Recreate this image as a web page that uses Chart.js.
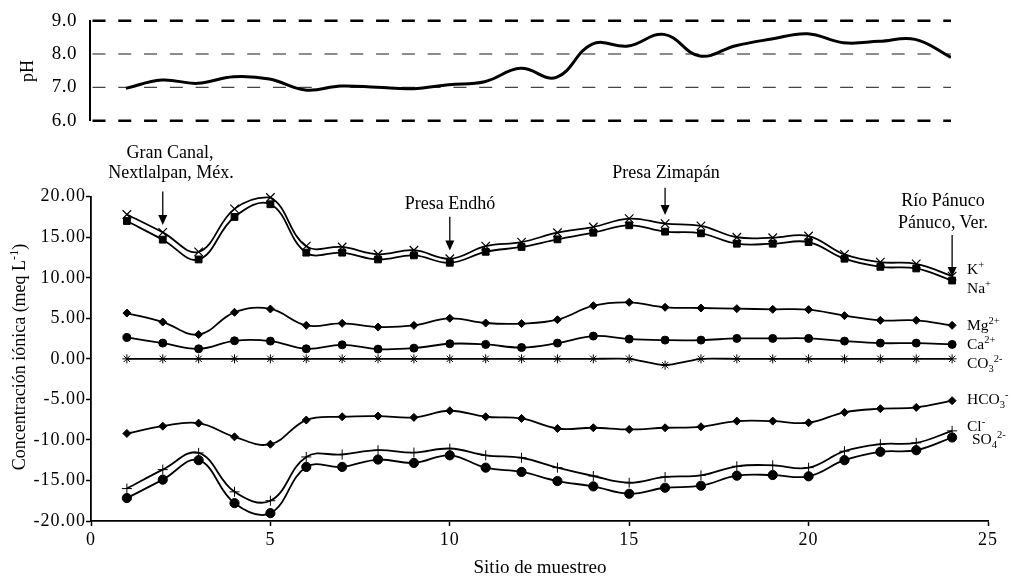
<!DOCTYPE html>
<html><head><meta charset="utf-8">
<script src="https://cdn.jsdelivr.net/npm/chart.js@4.4.1/dist/chart.umd.min.js"></script>
<style>
body{margin:0;background:#fff;}
#wrap{position:relative;width:1013px;height:578px;overflow:hidden;font-family:'Liberation Serif','Times New Roman',serif;color:#000;background:#fff;}
canvas{position:absolute;left:0;}
.t{position:absolute;white-space:nowrap;line-height:1;transform:translate(-50%,-50%);}
.rot{transform:translate(-50%,-50%) rotate(-90deg);}
.r{position:absolute;white-space:nowrap;line-height:1;transform:translate(0,-50%);font-size:15.5px;}
sup,sub{font-size:68%;line-height:0;}
</style></head><body>
<div id="wrap">
<canvas id="cTop" width="1013" height="140" style="top:0"></canvas>
<canvas id="cBot" width="1013" height="438" style="top:140px"></canvas>

<div class="t rot" style="left:27px;top:71px;font-size:18px;">pH</div>
<div class="t rot" style="left:19px;top:357px;font-size:18px;">Concentración iónica (meq L<sup>-1</sup>)</div>
<div class="t" style="left:540px;top:566px;font-size:19px;">Sitio de muestreo</div>

<div class="t" style="left:170px;top:152px;font-size:18px;">Gran Canal,</div>
<div class="t" style="left:171px;top:172px;font-size:18px;">Nextlalpan, Méx.</div>
<div class="t" style="left:450px;top:203px;font-size:18px;">Presa Endhó</div>
<div class="t" style="left:666px;top:172px;font-size:18px;">Presa Zimapán</div>
<div class="t" style="left:943px;top:200px;font-size:18px;">Río Pánuco</div>
<div class="t" style="left:943px;top:222px;font-size:18px;">Pánuco, Ver.</div>

<div class="r" style="left:967px;top:269px;">K<sup>+</sup></div>
<div class="r" style="left:967px;top:288px;">Na<sup>+</sup></div>
<div class="r" style="left:967px;top:325px;">Mg<sup>2+</sup></div>
<div class="r" style="left:967px;top:344px;">Ca<sup>2+</sup></div>
<div class="r" style="left:967px;top:363px;">CO<sub>3</sub><sup>2-</sup></div>
<div class="r" style="left:967px;top:399px;">HCO<sub>3</sub><sup>-</sup></div>
<div class="r" style="left:967px;top:426px;">Cl<sup>-</sup></div>
<div class="r" style="left:972px;top:439px;">SO<sub>4</sub><sup>2-</sup></div>
</div>
<script>
// ---------- data ----------
const sites = [1,2,3,4,5,6,7,8,9,10,11,12,13,14,15,16,17,18,19,20,21,22,23,24];
const pH   = [6.97,7.22,7.12,7.32,7.25,6.92,7.04,7.00,6.96,7.08,7.17,7.57,7.30,8.30,8.24,8.59,7.94,8.25,8.45,8.61,8.34,8.38,8.44,7.90];
const K    = [17.8,15.6,13.2,18.5,19.9,13.9,13.8,12.9,13.4,12.35,13.9,14.4,15.56,16.26,17.3,16.68,16.4,15.0,14.94,15.15,12.88,11.93,11.72,10.2];
const Na   = [17.0,14.7,12.26,17.5,19.07,13.1,13.1,12.26,12.76,11.85,13.2,13.8,14.74,15.56,16.47,15.69,15.48,14.2,14.2,14.4,12.35,11.35,11.15,9.66];
const Mg   = [5.65,4.54,3.0,5.74,6.15,4.13,4.38,3.92,4.13,5.0,4.42,4.35,4.83,6.56,6.97,6.36,6.27,6.19,6.11,6.07,5.33,4.75,4.75,4.13];
const Ca   = [2.64,1.94,1.24,2.23,2.19,1.24,1.73,1.2,1.32,1.86,1.78,1.4,1.94,2.81,2.44,2.31,2.31,2.52,2.52,2.52,2.19,1.94,1.94,1.78];
const CO3  = [0,0,0,0,0,0,0,0,0,0,0,0,0,0,0,-0.78,0,0,0,0,0,0,0,0];
const HCO3 = [-9.2,-8.3,-7.93,-9.62,-10.53,-7.55,-7.14,-7.06,-7.22,-6.4,-7.14,-7.35,-8.59,-8.5,-8.71,-8.5,-8.38,-7.68,-7.68,-7.88,-6.6,-6.15,-5.99,-5.16];
const Cl   = [-16.0,-13.66,-11.6,-16.4,-17.5,-12.1,-11.8,-11.27,-11.56,-11.06,-11.9,-12.2,-13.42,-14.45,-15.28,-14.57,-14.37,-13.25,-13.13,-13.42,-11.39,-10.53,-10.36,-8.88];
const SO4  = [-17.17,-14.9,-12.5,-17.8,-19.03,-13.33,-13.33,-12.42,-12.84,-11.9,-13.42,-13.95,-15.07,-15.73,-16.64,-15.9,-15.65,-14.41,-14.33,-14.49,-12.5,-11.47,-11.27,-9.7];

const phTicks   = [6,7,8,9];
const ionTicks  = [-20,-15,-10,-5,0,5,10,15,20];
const siteTicks = [0,5,10,15,20,25];

// annotation arrows (site, arrow start value, arrow tip value)
const arrowSites = [2,10,16,24];
const arrowFrom  = [20.63,17.54,21.09,15.28];
const arrowTo    = [16.52,13.35,17.75,10.1];

// ---------- helpers ----------
const FONT = "'Liberation Serif','Times New Roman',serif";
Chart.defaults.font.family = FONT;
Chart.defaults.color = '#000';
const pts = arr => sites.map((s,i)=>({x:s,y:arr[i]}));
const setTicks = arr => (scale)=>{ scale.ticks = arr.map(v=>({value:v})); };

const spacing = (px)=>({
  id:'spacing',
  beforeDraw(chart){ chart.ctx.letterSpacing = px+'px'; },
  afterDraw(chart){ chart.ctx.letterSpacing = '0px'; }
});

const phGridStyle = {9:{w:2.5,c:'#000'},8:{w:2,c:'#8c8c8c'},7:{w:1.3,c:'#444'},6:{w:2.5,c:'#000'}};
const phGrid = {
  id:'phGrid',
  beforeDatasetsDraw(chart){
    const {ctx, chartArea:a, scales:{y}} = chart;
    ctx.save();
    phTicks.forEach(v=>{
      const st = phGridStyle[v];
      const py = y.getPixelForValue(v);
      ctx.beginPath();
      ctx.lineWidth = st.w; ctx.strokeStyle = st.c;
      ctx.setLineDash([13,12.78]);
      ctx.lineDashOffset = -4.5;
      ctx.moveTo(a.left-2, py); ctx.lineTo(a.right, py);
      ctx.stroke();
    });
    ctx.restore();
  }
};

const arrowPlugin = {
  id:'arrows',
  afterDatasetsDraw(chart){
    const {ctx, scales:{x,y}} = chart;
    ctx.save();
    ctx.strokeStyle='#000'; ctx.fillStyle='#000'; ctx.lineWidth=1.3;
    arrowSites.forEach((s,i)=>{
      const px = x.getPixelForValue(s);
      const y0 = y.getPixelForValue(arrowFrom[i]);
      const y1 = y.getPixelForValue(arrowTo[i]);
      ctx.beginPath(); ctx.moveTo(px,y0); ctx.lineTo(px,y1-9); ctx.stroke();
      ctx.beginPath(); ctx.moveTo(px-4.5,y1-10); ctx.lineTo(px+4.5,y1-10); ctx.lineTo(px,y1); ctx.closePath(); ctx.fill();
    });
    ctx.restore();
  }
};

// ---------- top chart: pH ----------
const cTop = new Chart(document.getElementById('cTop'), {
  type:'line',
  data:{datasets:[{data:pts(pH), borderColor:'#000', borderWidth:3, pointRadius:0, tension:0.4, fill:false}]},
  options:{
    responsive:false, animation:false, events:[],
    layout:{padding:{left:0,right:62,top:20.7,bottom:19.3}},
    plugins:{legend:{display:false}, tooltip:{enabled:false}},
    scales:{
      x:{type:'linear', min:0, max:24, display:false},
      y:{min:6, max:9, afterFit(s){s.width=90;}, afterBuildTicks:setTicks(phTicks),
         ticks:{callback:v=>Number(v).toFixed(1), font:{size:19}, color:'#000', padding:0},
         grid:{display:true, drawOnChartArea:false, drawTicks:true, tickLength:13, color:'rgba(0,0,0,0)', tickColor:'rgba(0,0,0,0)'},
         border:{display:true, color:'#000', width:2}}
    }
  },
  plugins:[phGrid, spacing(0.5)]
});

// ---------- bottom chart: ions ----------
function ds(arr, style, radius, bw, lw, tension){
  return {data:pts(arr), borderColor:'#000', borderWidth:lw, pointStyle:style, pointRadius:radius,
          pointBackgroundColor:'#000', pointBorderColor:'#000', pointBorderWidth:bw,
          tension:tension, fill:false, clip:false};
}
const cBot = new Chart(document.getElementById('cBot'), {
  type:'line',
  data:{datasets:[
    ds(K,'crossRot',6,1.2,1.8,0.4),
    ds(Na,'rect',4.8,1,1.8,0.4),
    ds(Mg,'rectRot',4,1,1.8,0.4),
    ds(Ca,'circle',4,1,1.8,0.4),
    ds(CO3,'star',4.5,1,1.8,0.2),
    ds(HCO3,'rectRot',4,1,1.8,0.4),
    ds(Cl,'cross',5,1,1.8,0.4),
    ds(SO4,'circle',4.6,1,1.8,0.4)
  ]},
  options:{
    responsive:false, animation:false, events:[],
    layout:{padding:{left:0,right:25,top:56.7,bottom:0}},
    plugins:{legend:{display:false}, tooltip:{enabled:false}},
    scales:{
      x:{type:'linear', min:0, max:25, afterFit(s){s.height=57;}, afterBuildTicks:setTicks(siteTicks),
         ticks:{callback:v=>String(v), font:{size:18}, color:'#000', padding:3, maxRotation:0},
         grid:{display:true, drawOnChartArea:false, drawTicks:true, tickLength:5, color:'#000', tickColor:'#000', tickWidth:1.5},
         border:{display:true, color:'#000', width:1.8}},
      y:{min:-20, max:20, afterFit(s){s.width=91;}, afterBuildTicks:setTicks(ionTicks),
         ticks:{callback:v=>Number(v).toFixed(2), font:{size:18}, color:'#000', padding:0},
         grid:{display:true, drawOnChartArea:false, drawTicks:true, tickLength:5, color:'#000', tickColor:'#000', tickWidth:1.5},
         border:{display:true, color:'#000', width:1.8}}
    }
  },
  plugins:[arrowPlugin, spacing(1)]
});
</script>
</body></html>
